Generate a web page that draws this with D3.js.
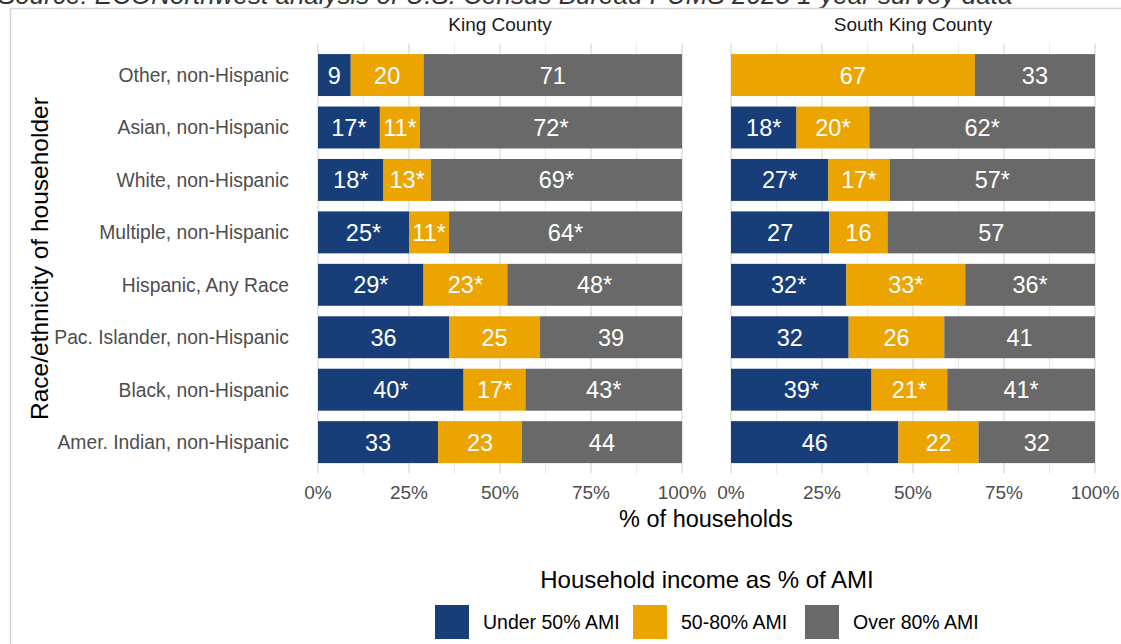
<!DOCTYPE html>
<html><head><meta charset="utf-8">
<script src="https://cdn.jsdelivr.net/npm/d3@7"></script>
<style>body{margin:0;background:#fff}svg{display:block;font-family:"Liberation Sans",Arial,sans-serif}</style>
</head><body><svg id="c" width="1121" height="644"></svg>
<script>
const categories = ["Other, non-Hispanic","Asian, non-Hispanic","White, non-Hispanic","Multiple, non-Hispanic","Hispanic, Any Race","Pac. Islander, non-Hispanic","Black, non-Hispanic","Amer. Indian, non-Hispanic"];
const seriesNames = ["Under 50% AMI","50-80% AMI","Over 80% AMI"];
const facets = ["King County","South King County"];
const kingUnder50 = [9,17,18,25,29,36,40,33];
const king50to80 = [20,11,13,11,23,25,17,23];
const kingOver80 = [71,72,69,64,48,39,43,44];
const kingSig = [false,true,true,true,true,false,true,false];
const southUnder50 = [0,18,27,27,32,32,39,46];
const south50to80 = [67,20,17,16,33,26,21,22];
const southOver80 = [33,62,57,57,36,41,41,32];
const southSig = [false,true,true,false,true,false,true,false];
const xTicks = [0,0.25,0.5,0.75,1];
const xMinor = [0.125,0.375,0.625,0.875];
const colors = ["#173e79","#eba400","#696969"];

const svg = d3.select("#c");
// source caption (clipped at top, as in the original)
svg.append("text").attr("x",-2).attr("y",4).attr("font-size",26).attr("font-style","italic").attr("fill","#333")
  .text("Source: ECONorthwest analysis of U.S. Census Bureau PUMS 2023 1-year survey data");
svg.append("rect").attr("x",10.5).attr("y",8.5).attr("width",1140).attr("height",660)
  .attr("fill","none").attr("stroke","#d3d3d3").attr("stroke-width",1.5);

const y = d3.scaleBand().domain(categories).range([43.6,473.6]).paddingInner(0.2).paddingOuter(0.2);
const panels = [
  {name:facets[0], x:d3.scaleLinear().domain([0,1]).range([318,682]), vals:[kingUnder50,king50to80,kingOver80], sig:kingSig},
  {name:facets[1], x:d3.scaleLinear().domain([0,1]).range([731,1095]), vals:[southUnder50,south50to80,southOver80], sig:southSig}
];

panels.forEach(p=>{
  const g = svg.append("g");
  const [x0,x1] = p.x.range();
  g.selectAll("line.minor").data(xMinor).join("line")
    .attr("x1",d=>p.x(d)).attr("x2",d=>p.x(d)).attr("y1",43.6).attr("y2",473.6)
    .attr("stroke","#ebebeb").attr("stroke-width",1.2);
  g.selectAll("line.major").data(xTicks).join("line")
    .attr("x1",d=>p.x(d)).attr("x2",d=>p.x(d)).attr("y1",43.6).attr("y2",473.6)
    .attr("stroke","#e3e3e3").attr("stroke-width",1.6);
  g.append("text").attr("x",(x0+x1)/2).attr("y",31).attr("text-anchor","middle")
    .attr("font-size",19).attr("fill","#1a1a1a").text(p.name);
  g.selectAll("text.tick").data(xTicks).join("text")
    .attr("x",d=>p.x(d)).attr("y",499).attr("text-anchor","middle")
    .attr("font-size",19).attr("fill","#4d4d4d").text(d3.format(".0%"));
  categories.forEach((c,i)=>{
    const vs = p.vals.map(a=>a[i]);
    const tot = d3.sum(vs);
    let cum = 0;
    vs.forEach((v,k)=>{
      const a = cum/tot, b=(cum+v)/tot; cum += v;
      if(v<=0) return;
      g.append("rect").attr("x",p.x(a)).attr("y",y(c)).attr("width",p.x(b)-p.x(a)).attr("height",y.bandwidth())
        .attr("fill",colors[k]);
      g.append("text").attr("x",p.x((a+b)/2)).attr("y",y(c)+y.bandwidth()/2).attr("dy","0.36em")
        .attr("text-anchor","middle").attr("font-size",23.5).attr("fill","#fff")
        .text(v + (p.sig[i]?"*":""));
    });
  });
});

svg.selectAll("text.cat").data(categories).join("text")
  .attr("x",289).attr("y",d=>y(d)+y.bandwidth()/2).attr("dy","0.36em").attr("text-anchor","end")
  .attr("font-size",19.3).attr("fill","#4d4d4d").text(d=>d);
svg.append("text").attr("transform","translate(48,258.6) rotate(-90)").attr("text-anchor","middle")
  .attr("font-size",24.5).attr("fill","#000").text("Race/ethnicity of householder");
svg.append("text").attr("x",706).attr("y",527).attr("text-anchor","middle")
  .attr("font-size",23.5).attr("fill","#000").text("% of households");
svg.append("text").attr("x",707).attr("y",588).attr("text-anchor","middle")
  .attr("font-size",24).attr("fill","#000").text("Household income as % of AMI");
const legX = [435,633,805];
seriesNames.forEach((s,k)=>{
  svg.append("rect").attr("x",legX[k]).attr("y",605).attr("width",34).attr("height",34).attr("fill",colors[k]);
  svg.append("text").attr("x",legX[k]+48).attr("y",622).attr("dy","0.36em").attr("font-size",19.5).attr("fill","#000").text(s);
});
</script></body></html>
